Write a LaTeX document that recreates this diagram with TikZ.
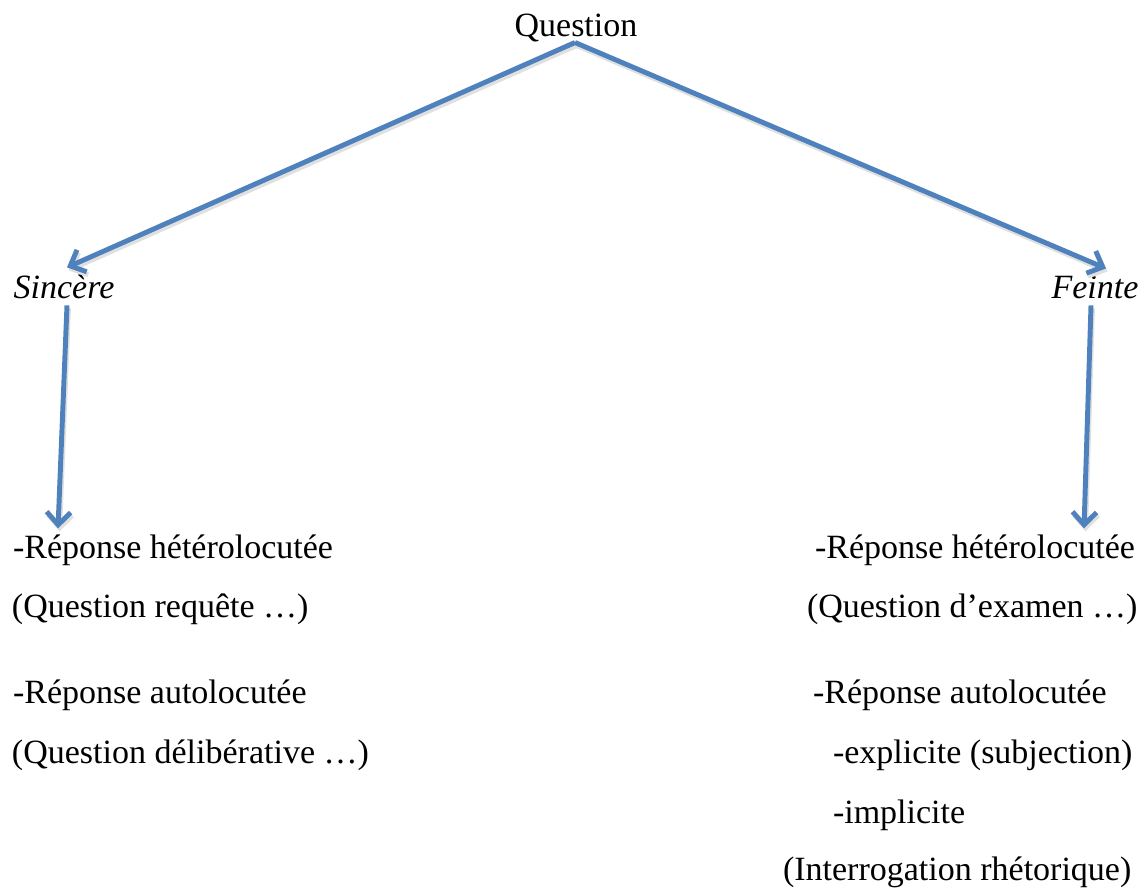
\documentclass[tikz,border=0pt]{standalone}
\usepackage{fontspec}
\setmainfont{Liberation Serif}
\usetikzlibrary{arrows.meta,calc}
\definecolor{linkblue}{HTML}{4F81BD}
\begin{document}
\begin{tikzpicture}[x=0.75pt,y=-0.75pt,
  txt/.style={inner sep=0pt,outer sep=0pt,font=\fontsize{25.5}{30}\selectfont},
  link/.style={draw=linkblue,line width=3.7pt,
    -{Straight Barb[length=9.5pt,width=18pt]}},
  linkshadow/.style={draw=black!12,line width=3.7pt,
    -{Straight Barb[length=9.5pt,width=18pt]}}]
\useasboundingbox (0,0) rectangle (1144,888);

% top and second level
\node[txt,anchor=base] (q) at (576,37) {Question};
\node[txt,anchor=base] (s) at (64,298) {\textit{Sincère}};
\node[txt,anchor=base] (f) at (1095,298) {\textit{Feinte}};

% left column
\node[txt,anchor=base west] (lh) at (13,558) {-Réponse hétérolocutée};
\node[txt,anchor=base west] (lq) at (12,617) {(Question requête …)};
\node[txt,anchor=base west] (la) at (13,703) {-Réponse autolocutée};
\node[txt,anchor=base west] (ld) at (12,763) {(Question délibérative …)};

% right column
\node[txt,anchor=base west] (rh) at (815,558) {-Réponse hétérolocutée};
\node[txt,anchor=base west] (rq) at (807,617) {(Question d’examen …)};
\node[txt,anchor=base west] (ra) at (813,703) {-Réponse autolocutée};
\node[txt,anchor=base west] (re) at (833,763) {-explicite (subjection)};
\node[txt,anchor=base west] (ri) at (833,823) {-implicite};
\node[txt,anchor=base west] (rr) at (783,880) {(Interrogation rhétorique)};

% connector end points relative to the nodes
\coordinate (qs) at ($(q.south)+(-1,0)$);
\coordinate (sn) at ($(s.north)+(3,-7)$);
\coordinate (ss) at ($(s.south)+(3,7)$);
\coordinate (fn) at ($(f.north)+(11,-7)$);
\coordinate (fs) at ($(f.south)+(-4,7)$);
\coordinate (lht) at ($(lh.north west)+(45,-6)$);
\coordinate (rht) at ($(rh.north west)+(269,-6)$);

% soft shadows under the connectors
\foreach \a/\b in {qs/sn,qs/fn,ss/lht,fs/rht}
  \draw[linkshadow] ($(\a)+(1.5,3)$) -- ($(\b)+(1.5,3)$);

% connectors
\draw[link] (qs) -- (sn);
\draw[link] (qs) -- (fn);
\draw[link] (ss) -- (lht);
\draw[link] (fs) -- (rht);
\end{tikzpicture}
\end{document}
